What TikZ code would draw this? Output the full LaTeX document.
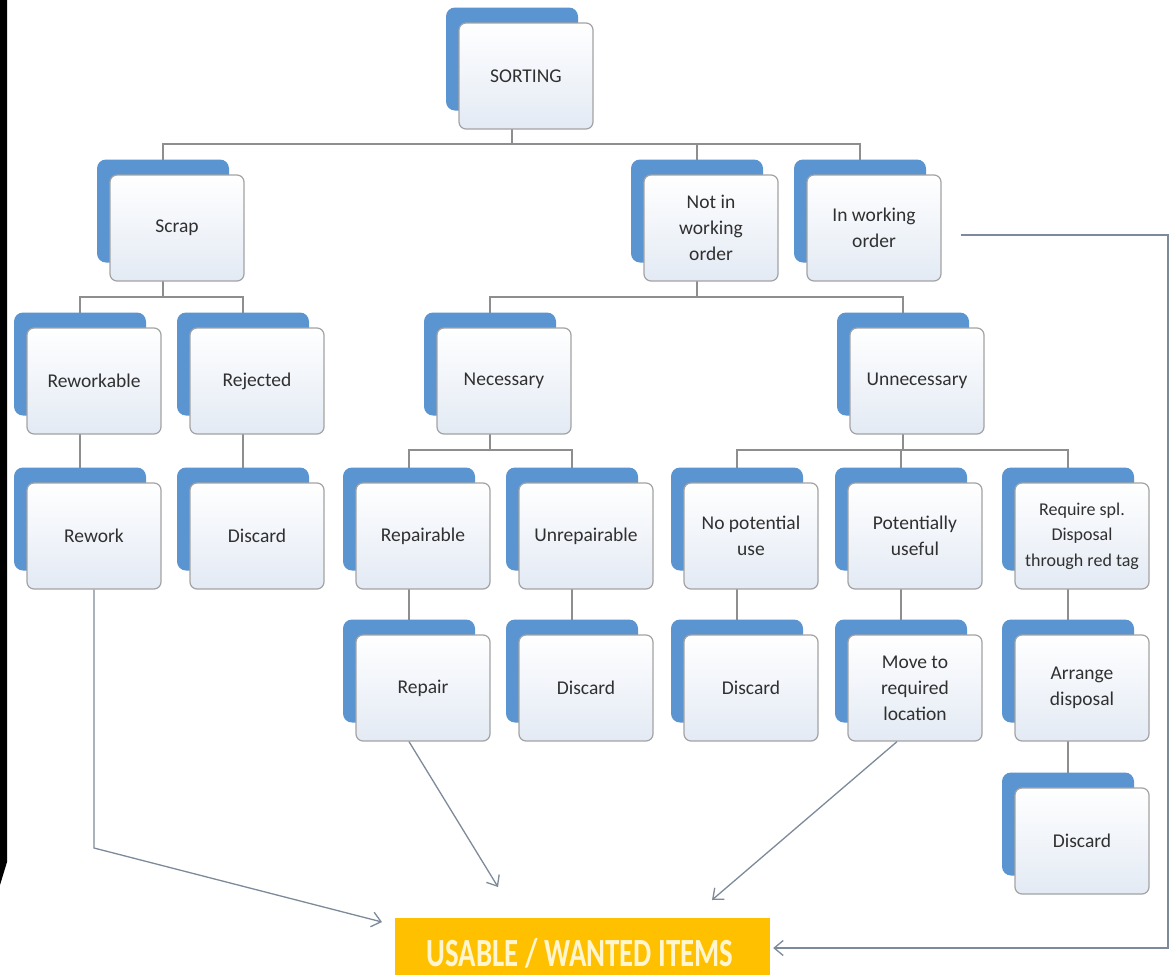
\documentclass[tikz,border=0pt]{standalone}
\usepackage{fontspec}
\setmainfont{Carlito}
\usetikzlibrary{arrows.meta}
\definecolor{bluebk}{HTML}{5A95D1}
\definecolor{frameg}{HTML}{A3A3A3}
\definecolor{boxbot}{HTML}{E3EAF4}
\definecolor{lineg}{HTML}{8E8E8E}
\definecolor{arrowg}{HTML}{7D8A99}
\definecolor{gold}{HTML}{FFC000}
\definecolor{goldtxt}{HTML}{FFF6CF}
\definecolor{txtc}{HTML}{303030}
\pgfdeclarelayer{bg}
\pgfsetlayers{bg,main}
\tikzset{
  backbox/.style={fill=bluebk, rounded corners=9pt, minimum width=132pt, minimum height=103pt, inner sep=0pt},
  frontbox/.style={draw=frameg, line width=1.2pt, rounded corners=7pt, top color=white, bottom color=boxbot,
    minimum width=134pt, minimum height=106pt, inner sep=2pt, align=center, text=txtc,
    font=\fontsize{19.5}{26}\selectfont},
  tree/.style={draw=lineg, line width=1.6pt},
  flow/.style={draw=arrowg, line width=1.3pt, -{Straight Barb[length=9pt,width=15pt,line width=1.3pt]}},
  usablebox/.style={fill=gold, minimum width=375pt, minimum height=57pt, inner sep=0pt},
  usabletext/.style={text=goldtxt, font=\fontsize{40}{40}\selectfont\bfseries, inner sep=0pt}
}
\newcommand{\dbox}[5][]{%
  \node[backbox] (b#2) at ({#3},{#4+36}) {};
  \node[frontbox,#1] (#2) at ({#3+14},{#4+53}) {#5};}
\begin{document}
\begin{tikzpicture}[x=1pt,y=-1pt]
\useasboundingbox (0,0) rectangle (1171,975);
\begin{pgfonlayer}{bg}
\fill[white] (0,0) rectangle (1171,975);
\end{pgfonlayer}
\fill[black] (0,0) -- (7,0) -- (7,862) -- (0,885) -- cycle;

\coordinate (e0) at (0,144);
\coordinate (e1) at (0,297);
\coordinate (e2) at (0,450);

\dbox{sorting}{512}{23}{SORTING}
\dbox{scrap}{163}{175}{Scrap}
\dbox{notw}{697}{175}{Not in\\working\\order}
\dbox{inw}{860}{175}{In working\\order}
\dbox{rewable}{80}{328}{Reworkable}
\dbox{rejected}{243}{328}{Rejected}
\dbox{necessary}{490}{328}{Necessary}
\dbox{unnecessary}{903}{328}{Unnecessary}
\dbox{rework}{80}{483}{Rework}
\dbox{discA}{243}{483}{Discard}
\dbox{repairable}{409}{483}{Repairable}
\dbox{unrepairable}{572}{483}{Unrepairable}
\dbox{nopot}{737}{483}{No potential\\use}
\dbox{potuse}{901}{483}{Potentially\\useful}
\dbox[font=\fontsize{18}{25.5}\selectfont]{reqspl}{1068}{483}{Require spl.\\Disposal\\through red tag}
\dbox{repair}{409}{635}{Repair}
\dbox{discB}{572}{635}{Discard}
\dbox{discC}{737}{635}{Discard}
\dbox{move}{901}{635}{Move to\\required\\location}
\dbox{arrange}{1068}{635}{Arrange\\disposal}
\dbox{discD}{1068}{788}{Discard}

\begin{pgfonlayer}{bg}
  \draw[tree] (bsorting.center) -- (bsorting.center |- e0);
  \draw[tree] (bscrap.center) -- (bscrap.center |- e0) -- (binw.center |- e0) -- (binw.center);
  \draw[tree] (bnotw.center) -- (bnotw.center |- e0);
  \draw[tree] (bscrap.center) -- (bscrap.center |- e1);
  \draw[tree] (brewable.center) -- (brewable.center |- e1) -- (brejected.center |- e1) -- (brejected.center);
  \draw[tree] (bnotw.center) -- (bnotw.center |- e1);
  \draw[tree] (bnecessary.center) -- (bnecessary.center |- e1) -- (bunnecessary.center |- e1) -- (bunnecessary.center);
  \draw[tree] (bnecessary.center) -- (bnecessary.center |- e2);
  \draw[tree] (brepairable.center) -- (brepairable.center |- e2) -- (bunrepairable.center |- e2) -- (bunrepairable.center);
  \draw[tree] (bunnecessary.center) -- (bunnecessary.center |- e2);
  \draw[tree] (bnopot.center) -- (bnopot.center |- e2) -- (breqspl.center |- e2) -- (breqspl.center);
  \draw[tree] (bpotuse.center) -- (bpotuse.center |- e2);
  \draw[tree] (brewable.center) -- (brework.center);
  \draw[tree] (brejected.center) -- (bdiscA.center);
  \draw[tree] (brepairable.center) -- (brepair.center);
  \draw[tree] (bunrepairable.center) -- (bdiscB.center);
  \draw[tree] (bnopot.center) -- (bdiscC.center);
  \draw[tree] (bpotuse.center) -- (bmove.center);
  \draw[tree] (breqspl.center) -- (barrange.center);
  \draw[tree] (barrange.center) -- (bdiscD.center);
\end{pgfonlayer}

\node[usablebox] (usable) at (582.5,946.5) {};
\node[usabletext, anchor=base] (usablelbl) at (580,966) {\scalebox{0.72}[1]{USABLE / WANTED ITEMS}};

\coordinate (kY) at (0,848);
\coordinate (tipL) at (382,922);
\coordinate (tipR) at (498,887);
\coordinate (tipM) at (712,900);
\coordinate (cTop) at (1168,235);
\coordinate (cBot) at (1168,948);

\draw[flow] (rework.south) -- (rework.south |- kY) -- (tipL);
\draw[flow] ([xshift=-14pt]repair.south) -- (tipR);
\draw[flow] ([xshift=-18pt]move.south) -- (tipM);
\draw[flow] ([xshift=19pt,yshift=-7pt]inw.east) -- (cTop) -- (cBot) -- ([xshift=3pt,yshift=-1.5pt]usable.east);
\end{tikzpicture}
\end{document}
